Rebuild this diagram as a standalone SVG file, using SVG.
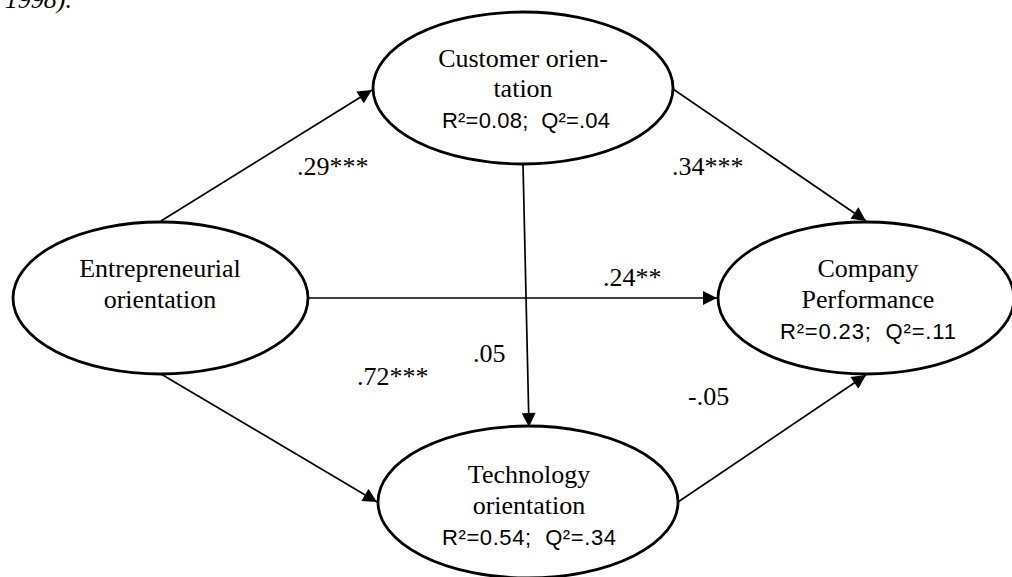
<svg xmlns="http://www.w3.org/2000/svg" width="1012" height="577" viewBox="0 0 1012 577">
  <style>
    .node ellipse { fill: #ffffff; stroke: #000000; stroke-width: 2.8; }
    .serif { font-family: "Liberation Serif", "Times New Roman", serif; font-size: 26px; fill: #000000; text-anchor: middle; }
    .sans { font-family: "Liberation Sans", Arial, sans-serif; font-size: 22px; fill: #000000; text-anchor: middle; }
    .edge { stroke: #000000; stroke-width: 1.7; fill: none; marker-end: url(#arrow); }
    .label { font-family: "Liberation Serif", "Times New Roman", serif; font-size: 26px; fill: #000000; }
  </style>
  <defs>
    <marker id="arrow" viewBox="0 0 10 10" refX="10" refY="5" markerUnits="userSpaceOnUse" markerWidth="16" markerHeight="14" orient="auto">
      <path d="M0,0 L10,5 L0,10 Z" fill="#000000"/>
    </marker>
  </defs>

  <rect width="1012" height="577" fill="#ffffff"/>

  <!-- trailing line of the preceding paragraph -->
  <text x="72" y="8" text-anchor="end" font-family="Liberation Serif, Times New Roman, serif" font-size="26" font-style="italic">1998).</text>

  <!-- connectors -->
  <g id="connectors">
    <line class="edge" x1="161" y1="221" x2="372" y2="90"/>
    <line class="edge" x1="673" y1="89" x2="866" y2="221"/>
    <line class="edge" x1="308" y1="298" x2="717" y2="298"/>
    <line class="edge" x1="523" y1="164" x2="529" y2="427"/>
    <line class="edge" x1="161" y1="374" x2="377" y2="502"/>
    <line class="edge" x1="678" y1="502" x2="866" y2="375"/>
  </g>

  <!-- path coefficients -->
  <g id="labels">
    <text class="label" x="297" y="175">.29***</text>
    <text class="label" x="672" y="175">.34***</text>
    <text class="label" x="603" y="286">.24**</text>
    <text class="label" x="473" y="362">.05</text>
    <text class="label" x="357" y="385">.72***</text>
    <text class="label" x="688" y="405">-.05</text>
  </g>

  <g id="entrepreneurial-orientation" class="node">
    <ellipse cx="160.5" cy="298" rx="147.5" ry="76"/>
    <text class="serif" x="160" y="277">Entrepreneurial</text>
    <text class="serif" x="160" y="308">orientation</text>
  </g>

  <g id="customer-orientation" class="node">
    <ellipse cx="523" cy="88" rx="150" ry="76"/>
    <text class="serif" x="523" y="67">Customer orien-</text>
    <text class="serif" x="523" y="97">tation</text>
    <text class="sans" x="526" y="128" xml:space="preserve" textLength="168" lengthAdjust="spacing">R²=0.08;  Q²=.04</text>
  </g>

  <g id="company-performance" class="node">
    <ellipse cx="866" cy="298" rx="148" ry="76"/>
    <text class="serif" x="868" y="277">Company</text>
    <text class="serif" x="868" y="308">Performance</text>
    <text class="sans" x="868" y="339" xml:space="preserve" textLength="176" lengthAdjust="spacing">R²=0.23;  Q²=.11</text>
  </g>

  <g id="technology-orientation" class="node">
    <ellipse cx="528" cy="502" rx="150" ry="76"/>
    <text class="serif" x="529" y="483">Technology</text>
    <text class="serif" x="529" y="514">orientation</text>
    <text class="sans" x="529" y="545" xml:space="preserve" textLength="174" lengthAdjust="spacing">R²=0.54;  Q²=.34</text>
  </g>
</svg>
